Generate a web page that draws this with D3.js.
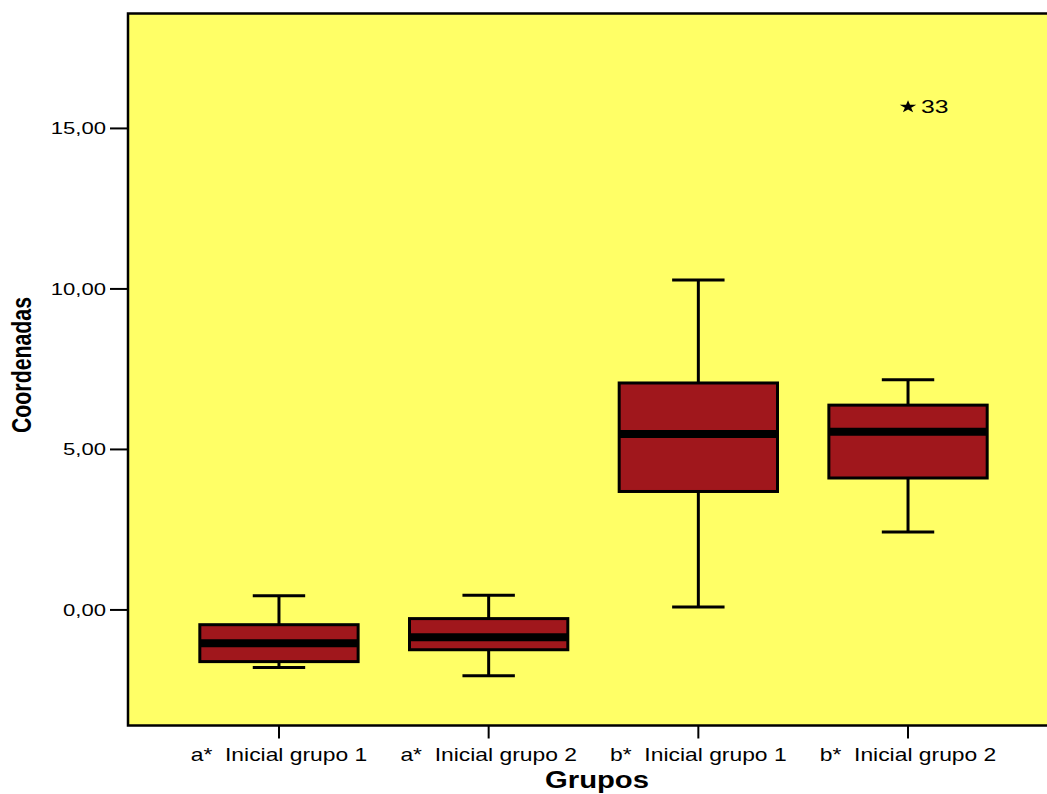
<!DOCTYPE html>
<html>
<head>
<meta charset="utf-8">
<script src="https://cdn.jsdelivr.net/npm/d3@7"></script>
<style>
html,body{margin:0;padding:0;background:#fff;}
svg{display:block;}
text{font-family:"Liberation Sans",Arial,sans-serif;fill:#000;}
</style>
</head>
<body>
<svg id="chart" width="1047" height="794"></svg>
<script>
const categories = ["a*  Inicial grupo 1","a*  Inicial grupo 2","b*  Inicial grupo 1","b*  Inicial grupo 2"];
const whiskerLow  = [-1.79, -2.05, 0.09, 2.43];
const q1          = [-1.61, -1.24, 3.69, 4.11];
const median      = [-1.04, -0.85, 5.48, 5.55];
const q3          = [-0.46, -0.27, 7.07, 6.38];
const whiskerHigh = [0.44, 0.46, 10.28, 7.17];
const outliers = [{cat: 3, value: 15.67, label: "33"}];
const yTicks = [0, 5, 10, 15];
const yTickLabels = ["0,00","5,00","10,00","15,00"];

(function () {
const svg = d3.select("#chart");
const pLeft = 128, pRight = 1059, pTop = 13.5, pBottom = 725.5;
const xStretch = 1.3;

const x = d3.scalePoint().domain(categories).range([pLeft, pRight]).padding(0.72);
const y = d3.scaleLinear().domain([-3.6, 18.58]).range([pBottom, pTop]);
const step = x.step();
const boxW = step * 0.755;
const capW = step * 0.25;

svg.append("rect").attr("x", pLeft).attr("y", pTop).attr("width", pRight - pLeft).attr("height", pBottom - pTop)
  .attr("fill", "#FFFF66").attr("stroke", "#000").attr("stroke-width", 2.5);

const yAxis = svg.append("g");
yTicks.forEach((t, i) => {
  yAxis.append("line").attr("x1", pLeft - 18).attr("x2", pLeft).attr("y1", y(t)).attr("y2", y(t))
    .attr("stroke", "#000").attr("stroke-width", 2);
  yAxis.append("text").attr("transform", `translate(${pLeft - 22},${y(t) + 6}) scale(${xStretch},1)`)
    .attr("text-anchor", "end").attr("font-size", 17).text(yTickLabels[i]);
});

const xAxis = svg.append("g");
categories.forEach(c => {
  xAxis.append("line").attr("x1", x(c)).attr("x2", x(c)).attr("y1", pBottom).attr("y2", pBottom + 13)
    .attr("stroke", "#000").attr("stroke-width", 2);
  xAxis.append("text").attr("transform", `translate(${x(c)},761) scale(1.27,1)`)
    .attr("text-anchor", "middle").attr("font-size", 18).attr("xml:space", "preserve")
    .style("white-space", "pre").text(c);
});

const g = svg.append("g");
categories.forEach((c, i) => {
  const cx = x(c);
  g.append("line").attr("x1", cx).attr("x2", cx).attr("y1", y(whiskerHigh[i])).attr("y2", y(q3[i]))
    .attr("stroke", "#000").attr("stroke-width", 3);
  g.append("line").attr("x1", cx).attr("x2", cx).attr("y1", y(q1[i])).attr("y2", y(whiskerLow[i]))
    .attr("stroke", "#000").attr("stroke-width", 3);
  g.append("line").attr("x1", cx - capW / 2).attr("x2", cx + capW / 2).attr("y1", y(whiskerHigh[i])).attr("y2", y(whiskerHigh[i]))
    .attr("stroke", "#000").attr("stroke-width", 3);
  g.append("line").attr("x1", cx - capW / 2).attr("x2", cx + capW / 2).attr("y1", y(whiskerLow[i])).attr("y2", y(whiskerLow[i]))
    .attr("stroke", "#000").attr("stroke-width", 3);
  g.append("rect").attr("x", cx - boxW / 2).attr("y", y(q3[i])).attr("width", boxW).attr("height", y(q1[i]) - y(q3[i]))
    .attr("fill", "#A0171C").attr("stroke", "#000").attr("stroke-width", 3);
  g.append("line").attr("x1", cx - boxW / 2).attr("x2", cx + boxW / 2).attr("y1", y(median[i])).attr("y2", y(median[i]))
    .attr("stroke", "#000").attr("stroke-width", 8);
});

outliers.forEach(o => {
  const cx = x(categories[o.cat]);
  g.append("path").attr("d", d3.symbol(d3.symbolStar, 50)())
    .attr("transform", `translate(${cx},${y(o.value)}) scale(1.3,1)`).attr("fill", "#000");
  g.append("text").attr("transform", `translate(${cx + 13},${y(o.value) + 6}) scale(${xStretch},1)`)
    .attr("font-size", 19).text(o.label);
});

svg.append("text").attr("transform", `translate(597,788)`)
  .attr("text-anchor", "middle").attr("font-size", 23).attr("font-weight", "bold")
  .attr("textLength", 104).attr("lengthAdjust", "spacingAndGlyphs").text("Grupos");
svg.append("text").attr("transform", `translate(31,365) scale(${xStretch},1) rotate(-90)`)
  .attr("text-anchor", "middle").attr("font-size", 21).attr("font-weight", "bold")
  .attr("textLength", 136).attr("lengthAdjust", "spacingAndGlyphs").text("Coordenadas");
})();
</script>
</body>
</html>
